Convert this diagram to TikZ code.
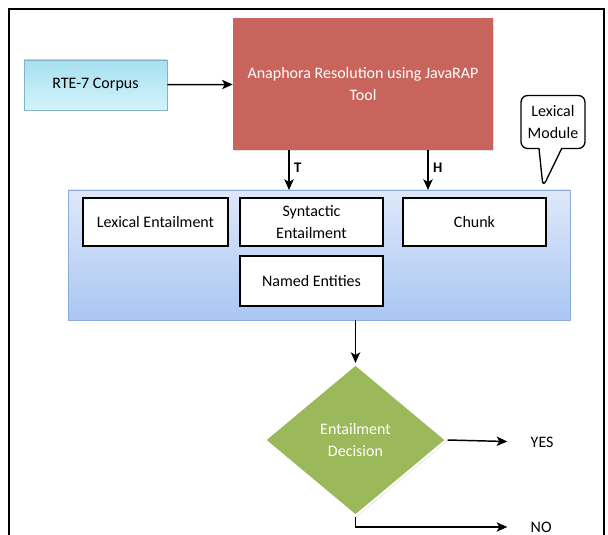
\documentclass[tikz,border=0pt]{standalone}
\usepackage{fontspec}
\setmainfont{Carlito}
\usetikzlibrary{arrows.meta,shapes.geometric,shapes.callouts,shadows}

\definecolor{corpusTop}{RGB}{166,224,240}
\definecolor{corpusBot}{RGB}{212,243,251}
\definecolor{corpusLine}{RGB}{130,180,200}
\definecolor{toolRed}{RGB}{201,100,92}
\definecolor{panelTop}{RGB}{222,232,250}
\definecolor{panelBot}{RGB}{170,198,242}
\definecolor{panelLine}{RGB}{140,172,218}
\definecolor{decGreen}{RGB}{155,185,90}

\tikzset{
  txt/.style={font=\fontsize{12}{16}\selectfont, align=center},
  arr/.style={-{Stealth[length=8pt,width=7pt,inset=2pt]}, line width=1.1pt},
  whitebox/.style={txt, draw=black, line width=1pt, fill=white, minimum width=107.25pt, minimum height=36pt, inner sep=2pt}
}

\begin{document}
\begin{tikzpicture}[x=0.75pt,y=-0.75pt]
  \useasboundingbox (0,0) rectangle (608,535);

  % frame
  \draw[line width=2.2pt] (9,540) -- (9,9) -- (604,9) -- (604,540);

  % top row
  \node[txt, draw=corpusLine, top color=corpusTop, bottom color=corpusBot, minimum width=107.25pt, minimum height=37.5pt,
        drop shadow={opacity=0.25, shadow xshift=1pt, shadow yshift=-1pt}] (corpus) at (95.5,85) {RTE-7 Corpus};
  \node[txt, text=white, fill=toolRed, minimum width=195pt, minimum height=99pt,
        drop shadow={opacity=0.25, shadow xshift=1pt, shadow yshift=-1pt}] (tool) at (363,84) {Anaphora Resolution using JavaRAP\\Tool};
  \draw[arr] (corpus) -- (tool);

  \node[txt, rectangle callout, draw=black, line width=1pt, fill=white, rounded corners=5pt, minimum width=48pt, minimum height=39.75pt,
        inner sep=1pt, callout absolute pointer={(543,187)}, callout pointer width=17pt] (callout) at (553,122) {Lexical\\Module};

  % lexical module panel
  \node[draw=panelLine, top color=panelTop, bottom color=panelBot, minimum width=376.5pt, minimum height=97.5pt,
        drop shadow={opacity=0.25, shadow xshift=1pt, shadow yshift=-1pt}] (panel) at (319,255) {};
  \node[whitebox, minimum width=108.75pt] (lexent) at (155.5,222) {Lexical Entailment};
  \node[whitebox] (synent) at (311.5,222) {Syntactic\\Entailment};
  \node[whitebox] (chunk) at (474.5,222) {Chunk};
  \node[whitebox, minimum height=37.5pt] (named) at (311.5,281) {Named Entities};

  \coordinate (tend) at (289,190);
  \coordinate (hend) at (428,190);
  \draw[arr] (tool.south -| tend) -- node[right, font=\fontsize{11}{13}\selectfont\bfseries, pos=0.45] {T} (tend);
  \draw[arr] (tool.south -| hend) -- node[right, font=\fontsize{11}{13}\selectfont\bfseries, pos=0.45] {H} (hend);

  % decision
  \node[txt, text=white, diamond, fill=decGreen, draw=white, line width=1.5pt, minimum width=136.5pt, minimum height=114pt,
        inner sep=0pt, drop shadow={opacity=0.2, shadow xshift=1pt, shadow yshift=-1pt}] (decision) at (355.5,440) {Entailment\\Decision};
  \draw[arr] (panel.south -| decision.north) -- (decision.north);

  \node[txt, anchor=west] (yes) at (526,442) {YES};
  \node[txt, anchor=west] (no) at (526,527) {NO};
  \draw[arr, shorten >=14pt] (decision.east) -- (yes.west);
  \draw[arr, shorten >=14pt] (decision.south) |- (no.west);
\end{tikzpicture}
\end{document}
